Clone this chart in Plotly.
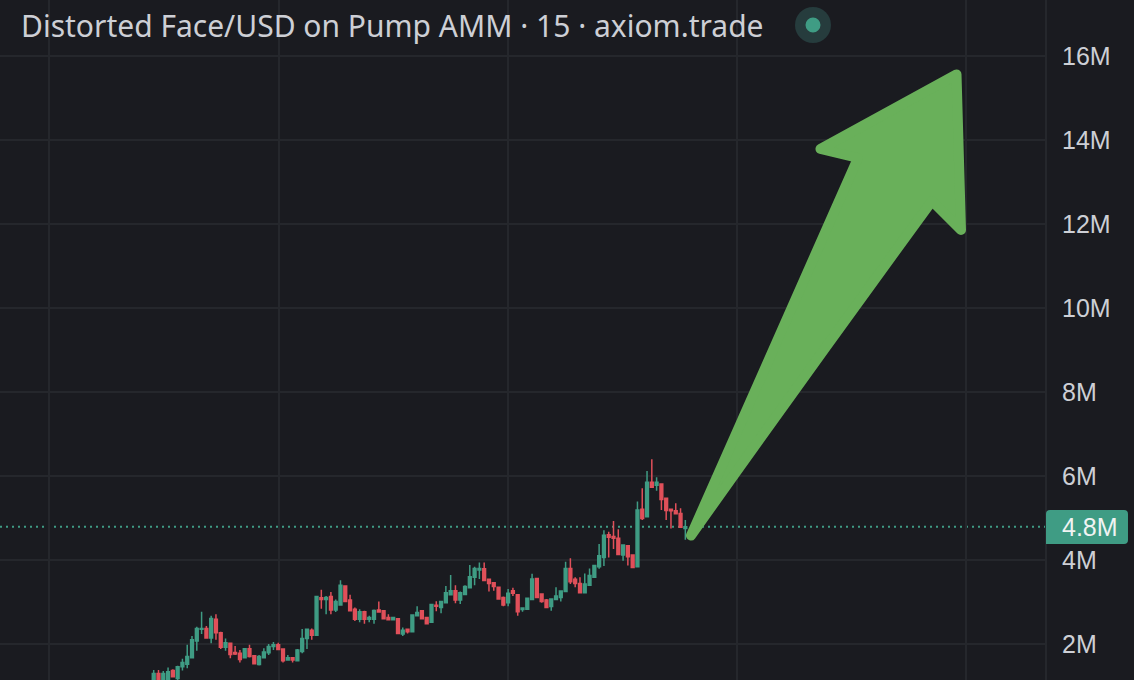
import plotly.graph_objects as go

TITLE = "Distorted Face/USD on Pump AMM · 15 · axiom.trade"
BG = "#1a1b20"
GRID = "#25272c"
UP = "#3f9c84"
DOWN = "#e0505a"
TXT = "#cdcfd5"
ARROW = "#69b05a"

# OHLC in millions, one 15-minute candle per entry
opens = [1.10,1.30,1.10,1.14,1.37,1.18,1.46,1.52,1.67,2.07,2.35,2.37,2.14,2.59,2.27,1.92,2.02,1.80,1.78,1.67,
         1.89,1.72,1.51,1.67,1.79,1.94,1.98,1.88,1.62,1.67,1.60,1.82,2.13,2.33,2.21,3.10,3.06,3.13,2.81,2.93,
         3.38,3.05,2.83,2.59,2.77,2.59,2.59,2.81,2.79,2.63,2.58,2.60,2.24,2.35,2.29,2.67,2.79,2.63,2.52,2.92,
         2.87,2.98,3.17,3.27,3.05,3.18,3.34,3.59,3.76,3.79,3.54,3.46,3.35,3.11,2.98,3.27,3.17,2.82,2.83,3.06,
         3.56,3.19,3.05,2.89,3.06,3.11,3.25,3.80,3.54,3.44,3.22,3.40,3.59,3.84,4.06,4.60,4.56,4.52,4.12,4.34,
         4.12,3.84,5.21,5.03,5.85,5.78,5.81,5.47,5.21,5.17,5.11,4.75]
highs = [1.38,1.38,1.36,1.44,1.40,1.48,1.65,1.98,2.19,2.41,2.77,2.43,2.67,2.71,2.29,2.13,2.02,1.95,1.86,1.90,
         1.98,1.74,1.74,1.90,2.00,2.05,2.03,1.90,1.74,1.67,1.88,2.36,2.37,2.37,3.14,3.29,3.14,3.24,3.06,3.52,
         3.38,3.17,2.87,2.83,2.79,2.67,2.82,3.01,2.79,2.71,2.64,2.60,2.39,2.35,2.71,2.90,2.81,2.64,2.95,3.02,
         3.01,3.38,3.64,3.40,3.25,3.40,3.88,3.84,3.94,3.94,3.56,3.47,3.37,3.13,3.31,3.34,3.18,2.86,3.10,3.67,
         3.56,3.20,3.07,3.09,3.35,3.26,3.96,4.04,3.59,3.59,3.68,3.80,3.88,4.38,4.71,4.67,4.93,4.73,4.36,4.34,
         4.13,5.39,5.71,6.12,6.40,5.97,5.81,5.47,5.21,5.35,5.23,4.95]
lows = [1.05,1.08,1.06,1.10,1.21,1.14,1.37,1.42,1.67,1.84,2.24,2.14,2.02,2.10,1.88,1.84,1.66,1.74,1.56,1.66,
        1.68,1.52,1.49,1.66,1.74,1.86,1.86,1.56,1.60,1.56,1.59,1.78,1.88,2.10,2.21,2.84,2.71,2.71,2.76,2.93,
        3.01,2.79,2.55,2.52,2.48,2.52,2.48,2.76,2.59,2.57,2.57,2.24,2.19,2.25,2.28,2.67,2.59,2.48,2.52,2.78,
        2.73,2.97,3.17,2.97,2.95,3.17,3.34,3.40,3.55,3.51,3.25,3.27,3.07,2.90,2.90,3.14,2.67,2.77,2.83,3.05,
        3.11,2.98,2.86,2.79,3.06,3.01,3.25,3.43,3.35,3.22,3.22,3.40,3.58,3.79,3.86,4.06,4.26,4.12,3.98,3.87,
        3.82,3.83,4.95,5.03,5.73,5.65,5.19,4.95,4.75,5.10,4.78,4.48]
closes = [1.30,1.12,1.30,1.34,1.22,1.46,1.56,1.70,2.10,2.37,2.37,2.14,2.61,2.27,1.92,2.03,1.75,1.76,1.63,1.89,
          1.70,1.53,1.70,1.81,1.94,1.98,1.87,1.60,1.67,1.62,1.86,2.13,2.35,2.21,3.13,3.06,3.11,2.81,3.01,3.40,
          3.01,2.79,2.59,2.77,2.59,2.63,2.80,2.76,2.60,2.58,2.63,2.25,2.33,2.29,2.69,2.75,2.60,2.48,2.94,2.90,
          3.01,3.22,3.27,3.05,3.22,3.37,3.60,3.80,3.80,3.51,3.44,3.37,3.07,2.93,3.21,3.21,2.77,2.86,3.09,3.55,
          3.11,3.01,2.87,3.07,3.14,3.26,3.80,3.48,3.44,3.22,3.43,3.63,3.87,4.10,4.59,4.54,4.52,4.13,4.36,4.08,
          3.82,5.19,4.99,5.85,5.73,5.85,5.44,5.18,5.17,5.10,4.78,4.79]
candle_index = list(range(1, len(opens) + 1))

y_ticks = [2, 4, 6, 8, 10, 12, 14, 16]
y_labels = ["2M", "4M", "6M", "8M", "10M", "12M", "14M", "16M"]
x_grid = [-20.86, 27.16, 75.0, 122.8, 170.6]
last_price = 4.79
last_label = "4.8M"

W, H = 1134, 680
PLOT_W = 1046


def px(x):
    return x / PLOT_W


def py(y):
    return 1 - y / H


def path(cmds):
    out = []
    for c in cmds:
        if isinstance(c, str):
            out.append(c)
        else:
            out.append(f"{px(c[0]):.5f},{py(c[1]):.5f}")
    return " ".join(out)


arrow = path(["M", (691, 535.5), "Q", (810, 368), (932, 201), "L", (961, 230), "L", (956.5, 74.5),
              "L", (820.5, 149), "L", (858, 158), "Q", (775, 345), (691, 535.5), "Z"])
tag = path(["M", (1050, 510), "L", (1124, 510), "Q", (1128, 510), (1128, 514), "L", (1128, 540),
            "Q", (1128, 544), (1124, 544), "L", (1046, 544), "L", (1046, 514), "Q", (1046, 510), (1050, 510), "Z"])

fig = go.Figure(go.Candlestick(
    x=candle_index, open=opens, high=highs, low=lows, close=closes,
    whiskerwidth=0,
    increasing=dict(line=dict(color=UP, width=1.5), fillcolor=UP),
    decreasing=dict(line=dict(color=DOWN, width=1.5), fillcolor=DOWN),
    showlegend=False, hoverinfo="skip",
))

shapes = [
    dict(type="line", xref="paper", yref="y", x0=0, x1=1, y0=last_price, y1=last_price,
         line=dict(color=UP, width=2, dash="2px,4px"), layer="below"),
    dict(type="line", xref="paper", yref="paper", x0=1, x1=1, y0=0, y1=1, line=dict(color=GRID, width=2)),
    dict(type="path", xref="paper", yref="paper", path=arrow, fillcolor=ARROW,
         line=dict(color=ARROW, width=10)),
    dict(type="path", xref="paper", yref="paper", path=tag, fillcolor=UP, line=dict(width=0)),
    dict(type="circle", xref="paper", yref="paper", x0=px(795), x1=px(831), y0=py(43), y1=py(7),
         fillcolor="#263c3d", line=dict(width=0)),
    dict(type="circle", xref="paper", yref="paper", x0=px(805.5), x1=px(820.5), y0=py(32.5), y1=py(17.5),
         fillcolor=UP, line=dict(width=0)),
]

annotations = [
    dict(text=TITLE, xref="paper", yref="paper", x=px(19), y=py(26), xanchor="left", yanchor="middle",
         showarrow=False, font=dict(family="Noto Sans", size=30, color=TXT)),
    dict(text=last_label, xref="paper", yref="paper", x=px(1060), y=py(527), xanchor="left", yanchor="middle",
         showarrow=False, font=dict(family="Liberation Sans", size=25, color="#f0f3f2")),
]

fig.update_layout(
    width=W, height=H, margin=dict(l=0, r=W - PLOT_W, t=0, b=0, pad=0),
    paper_bgcolor=BG, plot_bgcolor=BG, shapes=shapes, annotations=annotations,
    showlegend=False, boxgap=0.42, boxgroupgap=0,
)
fig.update_xaxes(range=[-31.09, 187.3], tickmode="array", tickvals=x_grid, showticklabels=False, ticks="",
                 showgrid=True, gridcolor=GRID, gridwidth=2, zeroline=False, showline=False,
                 rangeslider=dict(visible=False))
fig.update_yaxes(range=[1.143, 17.333], side="right", tickmode="array", tickvals=y_ticks, ticktext=y_labels,
                 showgrid=True, gridcolor=GRID, gridwidth=2, zeroline=False, showline=False,
                 ticks="outside", ticklen=10, tickcolor="rgba(0,0,0,0)",
                 tickfont=dict(family="Liberation Sans", size=25, color=TXT))

fix = """
document.body.style.margin='0';document.body.style.background='#1a1b20';document.body.style.overflow='hidden';
document.querySelectorAll('.shapelayer path').forEach(function(p){p.style.strokeLinejoin='round';});
"""
fig.write_html("out.html", post_script=fix, config={"displayModeBar": False})
